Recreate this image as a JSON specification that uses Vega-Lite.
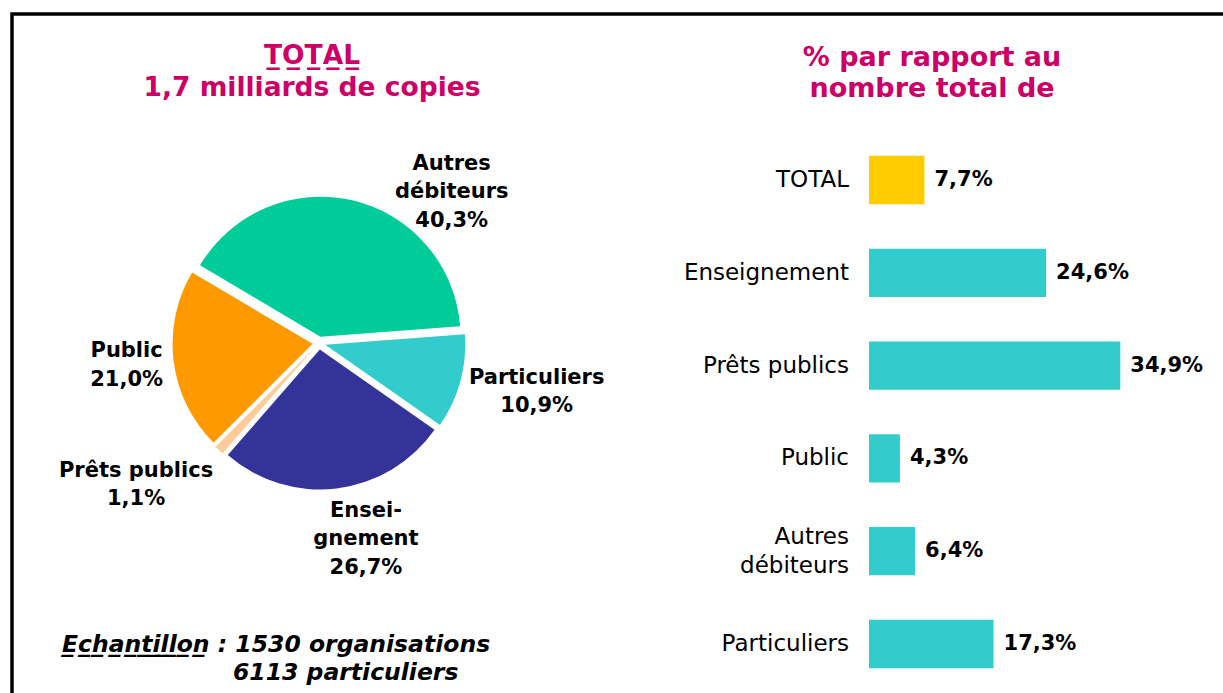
{
  "$schema": "https://vega.github.io/schema/vega-lite/v6.json",
  "width": 1221,
  "height": 689,
  "autosize": {"type": "none"},
  "padding": {"left": 12, "top": 14, "right": -10, "bottom": -10},
  "background": "white",
  "config": {
    "view": {"stroke": "#000000", "strokeWidth": 3.5},
    "font": "DejaVu Sans",
    "text": {"font": "DejaVu Sans"}
  },
  "datasets": {
    "pie": [
      {"cat": "Particuliers", "name": "Particuliers", "value": 10.9, "ord": 1},
      {"cat": "Enseignement", "name": "Ensei-\ngnement", "value": 26.7, "ord": 2},
      {"cat": "Prêts publics", "name": "Prêts publics", "value": 1.1, "ord": 3},
      {"cat": "Public", "name": "Public", "value": 21.0, "ord": 4},
      {"cat": "Autres débiteurs", "name": "Autres\ndébiteurs", "value": 40.3, "ord": 5}
    ],
    "bars": [
      {"cat": "TOTAL", "label": "TOTAL", "value": 7.7, "grp": "total"},
      {"cat": "Enseignement", "label": "Enseignement", "value": 24.6, "grp": "segment"},
      {"cat": "Prêts publics", "label": "Prêts publics", "value": 34.9, "grp": "segment"},
      {"cat": "Public", "label": "Public", "value": 4.3, "grp": "segment"},
      {"cat": "Autres débiteurs", "label": "Autres\ndébiteurs", "value": 6.4, "grp": "segment"},
      {"cat": "Particuliers", "label": "Particuliers", "value": 17.3, "grp": "segment"}
    ]
  },
  "layer": [
    {
      "data": {"name": "pie"},
      "transform": [
        {"stack": "value", "groupby": [], "sort": [{"field": "ord"}], "as": ["v0", "v1"]},
        {"calculate": "(datum.v0 + datum.v1) / 2", "as": "mid"},
        {"calculate": "datum.name + '\\n' + replace(format(datum.value, '.1f'), '.', ',') + '%'", "as": "plabel"}
      ],
      "layer": [
        {
          "mark": {
            "type": "arc",
            "outerRadius": 140,
            "x": 307,
            "y": 329,
            "xOffset": {"expr": "6.5 * sin(1.496 + PI * (datum.v0 + datum.v1) / 100)"},
            "yOffset": {"expr": "-6.5 * cos(1.496 + PI * (datum.v0 + datum.v1) / 100)"}
          },
          "encoding": {
            "theta": {"field": "v0", "type": "quantitative", "stack": null, "scale": {"domain": [0, 100], "range": [1.496, 7.779]}},
            "theta2": {"field": "v1"},
            "color": {
              "field": "cat", "type": "nominal", "legend": null,
              "scale": {
                "domain": ["Particuliers", "Enseignement", "Prêts publics", "Public", "Autres débiteurs"],
                "range": ["#33CCCC", "#333399", "#FFCC99", "#FF9900", "#00CC99"]
              }
            }
          }
        },
        {
          "mark": {
            "type": "text",
            "x": 307,
            "y": 329,
            "radius": 205,
            "align": "center",
            "baseline": "middle",
            "lineBreak": "\n",
            "lineHeight": 28.5,
            "fontSize": 21,
            "fontWeight": "bold",
            "color": "#000000",
            "dx": {"expr": "datum.cat === 'Autres débiteurs' ? 86 : datum.cat === 'Prêts publics' ? -43 : datum.cat === 'Enseignement' ? 22 : datum.cat === 'Particuliers' ? 20 : 11"},
            "dy": {"expr": "(datum.cat === 'Autres débiteurs' ? 49 : datum.cat === 'Prêts publics' ? -8 : datum.cat === 'Enseignement' ? -7 : datum.cat === 'Particuliers' ? -5 : -3) - (length(split(datum.plabel, '\\n')) - 1) * 14.25"}
          },
          "encoding": {
            "theta": {"field": "mid", "type": "quantitative", "stack": null, "scale": {"domain": [0, 100], "range": [1.496, 7.779]}},
            "text": {"field": "plabel", "type": "nominal"}
          }
        }
      ]
    },
    {
      "data": {"name": "bars"},
      "transform": [
        {"calculate": "replace(format(datum.value, '.1f'), '.', ',') + '%'", "as": "vlabel"}
      ],
      "encoding": {
        "y": {
          "field": "cat", "type": "nominal", "sort": null, "axis": null,
          "scale": {"range": [119.6, 676.4], "paddingInner": 0.48, "paddingOuter": 0.24}
        }
      },
      "layer": [
        {
          "mark": {"type": "bar"},
          "encoding": {
            "x": {"field": "value", "type": "quantitative", "axis": null, "scale": {"domain": [0, 34.9], "range": [857, 1109]}},
            "color": {
              "field": "grp", "type": "nominal", "legend": null,
              "scale": {"domain": ["total", "segment"], "range": ["#FFCC00", "#33CCCC"]}
            }
          }
        },
        {
          "mark": {"type": "text", "align": "left", "baseline": "middle", "dx": 10, "fontSize": 21, "fontWeight": "bold", "color": "#000000"},
          "encoding": {
            "x": {"field": "value", "type": "quantitative", "axis": null},
            "text": {"field": "vlabel", "type": "nominal"}
          }
        },
        {
          "mark": {"type": "text", "align": "right", "baseline": "middle", "dx": -20, "fontSize": 23, "lineBreak": "\n", "lineHeight": 29, "color": "#000000",
            "dy": {"expr": "-(length(split(datum.label, '\\n')) - 1) * 14.5"}},
          "encoding": {
            "x": {"datum": 0, "type": "quantitative", "axis": null},
            "text": {"field": "label", "type": "nominal"}
          }
        }
      ]
    },
    {
      "data": {"values": [{}]},
      "layer": [
        {
          "mark": {"type": "text", "x": 300, "y": 42, "align": "center", "baseline": "middle", "lineHeight": 32, "fontSize": 26.5, "fontWeight": "bold", "color": "#CC0066",
            "text": ["T\u0332O\u0332T\u0332A\u0332L\u0332", "1,7 milliards de copies"]},
          "encoding": {}
        },
        {
          "mark": {"type": "text", "x": 920, "y": 43.5, "align": "center", "baseline": "middle", "lineHeight": 31, "fontSize": 27, "fontWeight": "bold", "color": "#CC0066",
            "text": ["% par rapport au", "nombre total de"]},
          "encoding": {}
        },
        {
          "mark": {"type": "text", "x": 50, "y": 631, "align": "left", "baseline": "middle", "fontSize": 23.5, "fontWeight": "bold", "fontStyle": "italic", "color": "#000000",
            "text": "E\u0332c\u0332h\u0332a\u0332n\u0332t\u0332i\u0332l\u0332l\u0332o\u0332n\u0332 : 1530 organisations"},
          "encoding": {}
        },
        {
          "mark": {"type": "text", "x": 221, "y": 659, "align": "left", "baseline": "middle", "fontSize": 23.5, "fontWeight": "bold", "fontStyle": "italic", "color": "#000000",
            "text": "6113 particuliers"},
          "encoding": {}
        }
      ]
    }
  ],
  "resolve": {"scale": {"color": "independent"}}
}
